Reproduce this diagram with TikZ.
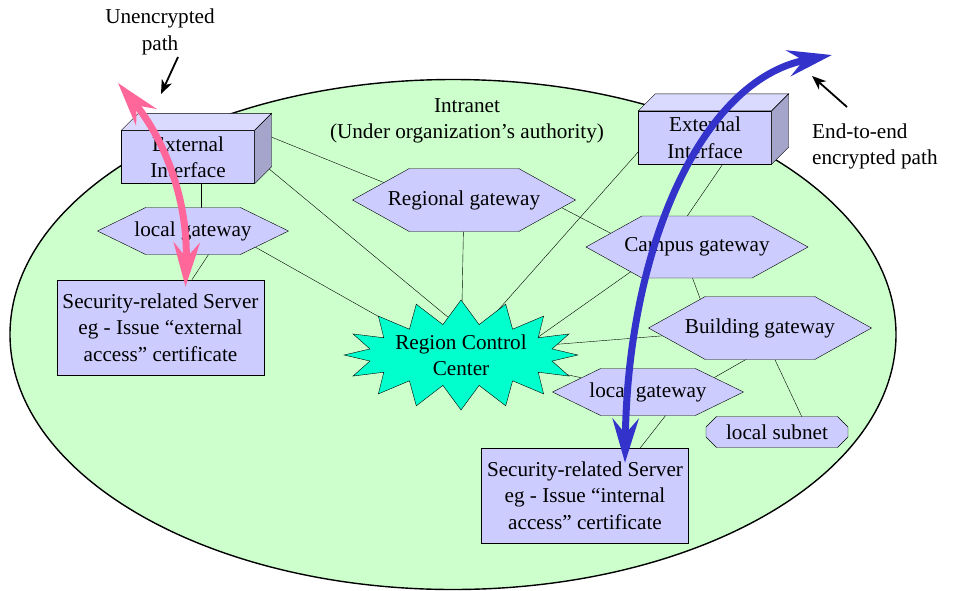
\documentclass[tikz,border=0pt]{standalone}
\usepackage{fontspec}
\setmainfont{Liberation Serif}
\newfontfamily\diagfont{Liberation Serif}
\usetikzlibrary{calc,shapes.symbols,shapes.misc,arrows.meta}

\definecolor{intranet}{RGB}{204,255,204}
\definecolor{lavender}{RGB}{204,204,255}
\definecolor{topface}{RGB}{218,218,255}
\definecolor{sideface}{RGB}{165,165,204}
\definecolor{burstfill}{RGB}{0,255,204}
\definecolor{plainpath}{RGB}{255,102,153}
\definecolor{cryptpath}{RGB}{51,51,204}

\pgfdeclarelayer{background}
\pgfdeclarelayer{wires}
\pgfsetlayers{background,wires,main}

\tikzset{
  extface/.style={draw, fill=lavender, align=center, inner sep=0pt,
    minimum width=133pt, minimum height=53pt},
  gateway/.style={draw, fill=lavender, shape=signal, signal to=west and east,
    signal pointer angle=58, inner xsep=-60pt, inner ysep=0pt, minimum width=223pt, minimum height=63pt},
  localgw/.style={gateway, signal pointer angle=52, minimum width=191pt, minimum height=47pt},
  server/.style={draw, fill=lavender, align=center, inner sep=0pt,
    minimum width=207pt, minimum height=95pt},
  subnetbox/.style={draw, fill=lavender, shape=chamfered rectangle,
    chamfered rectangle xsep=8pt, inner sep=0pt, minimum width=142pt, minimum height=31pt},
  burst/.style={draw, fill=burstfill, shape=starburst, starburst points=16,
    starburst point height=24pt, random starburst=0, align=center,
    minimum width=232pt, minimum height=110pt, inner sep=0pt},
  bigpath/.style={line width=7pt, {Stealth[length=44pt,width=26pt,inset=15pt]}-{Stealth[length=44pt,width=26pt,inset=15pt]}},
  note/.style={line width=1.8pt, -{Stealth[length=14pt,width=11pt,inset=4pt]}}
}

\begin{document}
\begin{tikzpicture}[x=1pt,y=-1pt,line width=1.2pt,font=\diagfont\fontsize{21.2}{26.5}\selectfont]
  \useasboundingbox (0,0) rectangle (956,590);

  \begin{pgfonlayer}{background}
    \draw[fill=intranet, line width=1.4pt] (453,334.5) ellipse [x radius=443, y radius=255];
  \end{pgfonlayer}

  % nodes of the intranet
  \node[extface] (extL) at (188,157) {External\\Interface};
  \node[extface] (extR) at (705,137.5) {External\\Interface};
  \node[gateway] (rg) at (464,200) {Regional gateway};
  \node[gateway, minimum width=222pt, minimum height=62pt] (cg) at (697,247) {Campus gateway};
  \node[gateway] (bg) at (760,328) {Building gateway};
  \node[localgw] (lgwL) at (193,231) {local gateway};
  \node[localgw] (lgwR) at (648,392) {local gateway};
  \node[subnetbox] (subnet) at (777,432) {local subnet};
  \node[server] (srvL) at (160.5,327.5) {Security-related Server\\eg - Issue “external\\access” certificate};
  \node[server] (srvR) at (585,495.5) {Security-related Server\\eg - Issue “internal\\access” certificate};
  \node[burst] (rcc) at (461,355) {Region Control\\Center};

  \foreach \n in {extL,extR}{
    \draw[fill=topface] (\n.north west) -- ++(17,-17) -- ($(\n.north east)+(17,-17)$) -- (\n.north east) -- cycle;
    \draw[fill=sideface] (\n.north east) -- ++(17,-17) -- ($(\n.south east)+(17,-17)$) -- (\n.south east) -- cycle;
  }

  \begin{pgfonlayer}{wires}
    \draw ($(extL)+(13,0)$) -- ($(lgwL)+(8,0)$);
    \draw ($(lgwL)+(31,0)$) -- (srvL);
    \draw (extL.north east) -- ($(rg)+(0,15)$);
    \draw (extL.east) -- ($(rcc)+(29,-3)$);
    \draw ($(lgwL)+(0,-19)$) -- ($(rcc)+(0,8)$);
    \draw (rg) -- (rcc);
    \draw ($(extR)+(-54,0)$) -- ($(rcc)+(0,-3)$);
    \draw ($(extR)+(36,0)$) -- ($(cg)+(-31,0)$);
    \draw ($(rg)+(58,-13)$) -- ($(cg)+(-37,12)$);
    \draw ($(rcc)+(39,9)$) -- ($(cg)+(-17,-10)$);
    \draw ($(rcc)+(0,-3)$) -- (bg);
    \draw ($(cg)+(-16,0)$) -- ($(bg)+(-49,0)$);
    \draw ($(rcc)+(0,-3)$) -- (lgwR);
    \draw ($(bg)+(41,0)$) -- ($(lgwR)+(41,0)$);
    \draw (bg) -- ($(subnet)+(32,0)$);
    \draw ($(lgwR)+(36,0)$) -- ($(srvR)+(18,0)$);
  \end{pgfonlayer}

  % labels
  \node[align=center] (unenc) at (160,32) {Unencrypted\\path};
  \node[align=center] (intra) at (467,121) {Intranet\\(Under organization’s authority)};
  \node[align=left, anchor=west, inner sep=0pt] (e2e) at (812,146.5) {End-to-end\\encrypted path};

  % paths
  \coordinate (plainEnd) at (118,83);
  \coordinate (cryptEnd) at (832,55);
  \draw[bigpath, plainpath] (plainEnd) .. controls (165,140) and (188,200) .. ($(srvL.north)+(25,7)$);
  \draw[bigpath, cryptpath] ($(srvR.north)+(40,15)$) .. controls (628,250) and (700,80) .. (cryptEnd);

  \coordinate (unencTail) at (178,57);
  \coordinate (unencTip) at (161,94);
  \coordinate (e2eTail) at (847,107);
  \coordinate (e2eTip) at (812,76);
  \draw[note] (unencTail) -- (unencTip);
  \draw[note] (e2eTail) -- (e2eTip);
\end{tikzpicture}
\end{document}
